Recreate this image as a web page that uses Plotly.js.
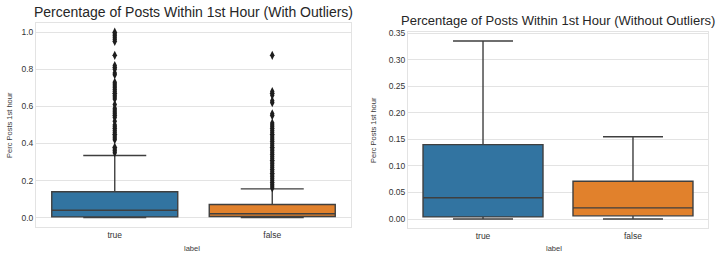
<!DOCTYPE html>
<html><head><meta charset="utf-8">
<script src="https://cdn.plot.ly/plotly-3.0.1.min.js"></script>
<style>html,body{margin:0;padding:0;background:#fff}#c{width:720px;height:257px}</style>
</head><body><div id="c"></div>
<script>
var categories = ['true', 'false'];
// box statistics per category: [true, false]
var q1Vals = [0.004, 0.006];
var medianVals = [0.040, 0.021];
var q3Vals = [0.140, 0.071];
var lowerFenceVals = [0.0, 0.0];
var upperFenceVals = [0.335, 0.155];
var trueOutliers = [0.35, 0.36, 0.37, 0.38, 0.42, 0.43, 0.44, 0.45, 0.46, 0.47, 0.48, 0.49, 0.50, 0.52, 0.54, 0.55, 0.56, 0.57, 0.58, 0.59, 0.61, 0.64, 0.65, 0.66, 0.67, 0.68, 0.69, 0.70, 0.71, 0.72, 0.73, 0.77, 0.78, 0.80, 0.81, 0.82, 0.875, 0.95, 0.96, 0.97, 0.98, 0.99, 1.0];
var falseOutliers = [0.16, 0.17, 0.18, 0.19, 0.20, 0.21, 0.22, 0.23, 0.24, 0.25, 0.26, 0.27, 0.28, 0.29, 0.30, 0.31, 0.32, 0.33, 0.34, 0.35, 0.36, 0.37, 0.38, 0.39, 0.40, 0.41, 0.42, 0.43, 0.44, 0.45, 0.46, 0.47, 0.48, 0.49, 0.50, 0.51, 0.55, 0.56, 0.62, 0.63, 0.66, 0.67, 0.68, 0.875];
var leftTicks = [0.0, 0.2, 0.4, 0.6, 0.8, 1.0];
var leftTickText = ['0.0', '0.2', '0.4', '0.6', '0.8', '1.0'];
var rightTicks = [0.0, 0.05, 0.10, 0.15, 0.20, 0.25, 0.30, 0.35];
var rightTickText = ['0.00', '0.05', '0.10', '0.15', '0.20', '0.25', '0.30', '0.35'];
var colors = ['#3274a1', '#e1812c'];
var edge = '#3f3f3f';

var data = [];
['x', 'x2'].forEach(function (xa, k) {
  var ya = k === 0 ? 'y' : 'y2';
  categories.forEach(function (c, i) {
    data.push({
      type: 'box', xaxis: xa, yaxis: ya, x: [c],
      q1: [q1Vals[i]], median: [medianVals[i]], q3: [q3Vals[i]],
      lowerfence: [lowerFenceVals[i]], upperfence: [upperFenceVals[i]],
      width: 0.8, whiskerwidth: 0.5, boxpoints: false,
      fillcolor: colors[i], line: {color: edge, width: 1.4},
      showlegend: false, hoverinfo: 'skip'
    });
  });
});
var outs = [trueOutliers, falseOutliers];
categories.forEach(function (c, i) {
  data.push({
    type: 'scatter', mode: 'markers', xaxis: 'x', yaxis: 'y',
    x: outs[i].map(function () { return c; }), y: outs[i],
    marker: {symbol: 'diamond-tall', size: 6.5, color: '#1e1e1e'},
    showlegend: false, hoverinfo: 'skip'
  });
});

var axFont = {family: 'Liberation Sans, Arial, sans-serif', size: 8.5, color: '#333333'};
function xax(dom, anchor) {
  return {domain: dom, anchor: anchor, type: 'category', categoryorder: 'array', categoryarray: categories,
    range: [-0.5, 1.5], showgrid: false, zeroline: false, showline: true, mirror: true,
    linecolor: '#e3e3e3', linewidth: 1, ticks: '', tickfont: axFont, fixedrange: true};
}
function yax(dom, anchor, rng, tv, tt) {
  return {domain: dom, anchor: anchor, range: rng, tickvals: tv, ticktext: tt, showgrid: true,
    gridcolor: '#e3e3e3', gridwidth: 1, zeroline: false, showline: true, mirror: true,
    linecolor: '#e3e3e3', linewidth: 1, ticks: '', tickfont: axFont, fixedrange: true};
}
var titleFont = {family: 'Liberation Sans, Arial, sans-serif', size: 14, color: '#262626'};
var smallFont = {family: 'Liberation Sans, Arial, sans-serif', size: 7.5, color: '#3a3a3a'};
var layout = {
  width: 720, height: 257, margin: {l: 0, r: 0, t: 0, b: 0},
  paper_bgcolor: '#fff', plot_bgcolor: '#fff', boxmode: 'overlay',
  xaxis: xax([0.05, 0.4875], 'y'),
  yaxis: yax([0.117, 0.911], 'x', [-0.05, 1.05], leftTicks, leftTickText),
  xaxis2: xax([0.5667, 0.9833], 'y2'),
  yaxis2: yax([0.113, 0.8755], 'x2', [-0.0168, 0.352], rightTicks, rightTickText),
  annotations: [
    {text: 'Percentage of Posts Within 1st Hour (With Outliers)', xref: 'paper', yref: 'paper',
      x: 193 / 720, y: 1 - 12 / 257, xanchor: 'center', yanchor: 'middle', showarrow: false,
      font: titleFont},
    {text: 'Percentage of Posts Within 1st Hour (Without Outliers)', xref: 'paper', yref: 'paper',
      x: 558 / 720, y: 1 - 20.5 / 257, xanchor: 'center', yanchor: 'middle', showarrow: false,
      font: {family: titleFont.family, size: 13, color: titleFont.color}},
    {text: 'Perc Posts 1st hour', xref: 'paper', yref: 'paper', x: 9 / 720, y: 1 - 125 / 257,
      xanchor: 'center', yanchor: 'middle', textangle: -90, showarrow: false, font: smallFont},
    {text: 'Perc Posts 1st hour', xref: 'paper', yref: 'paper', x: 373 / 720, y: 1 - 130 / 257,
      xanchor: 'center', yanchor: 'middle', textangle: -90, showarrow: false, font: smallFont},
    {text: 'label', xref: 'paper', yref: 'paper', x: 192 / 720, y: 1 - 248 / 257,
      xanchor: 'center', yanchor: 'middle', showarrow: false, font: smallFont},
    {text: 'label', xref: 'paper', yref: 'paper', x: 554 / 720, y: 1 - 248 / 257,
      xanchor: 'center', yanchor: 'middle', showarrow: false, font: smallFont}
  ]
};
Plotly.newPlot('c', data, layout, {staticPlot: true, displayModeBar: false});
</script></body></html>
